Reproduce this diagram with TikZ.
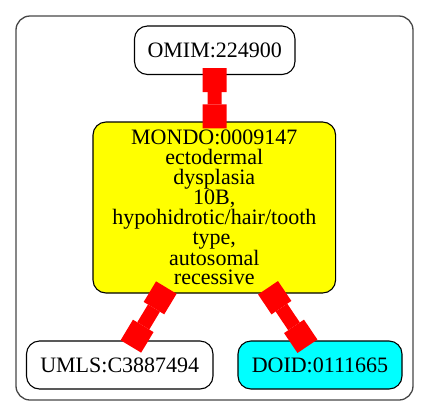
\documentclass[tikz,border=0pt]{standalone}
\usepackage{fontspec}
\setmainfont{Liberation Serif}
\usetikzlibrary{arrows.meta}
\definecolor{edgered}{RGB}{255,0,0}
\definecolor{mondoyellow}{RGB}{255,255,0}
\definecolor{doidcyan}{RGB}{0,255,255}
\definecolor{framegray}{RGB}{70,70,70}
\begin{document}
\begin{tikzpicture}[x=1pt,y=-1pt,
  nd/.style={draw=black, line width=1.1pt, rounded corners=13pt, inner sep=0pt, align=center, font=\fontsize{22}{19.9}\selectfont},
  boxtip/.tip={Square[length=24pt,width=24pt,line width=0pt]},
  edge/.style={draw=edgered, line width=14pt, boxtip-boxtip, shorten <=-7pt, shorten >=-7pt}]
\useasboundingbox (0,0) rectangle (429,416);
\draw[draw=framegray, line width=1.3pt, rounded corners=14pt] (16,16) rectangle (413,400);
\node[nd, minimum width=160.5pt, minimum height=48.5pt] (omim) at (214.75,50.25) {OMIM:224900};
\node[nd, fill=mondoyellow, minimum width=242.6pt, minimum height=171pt] (mondo) at (214.3,207.5) {MONDO:0009147\\ectodermal\\dysplasia\\10B,\\hypohidrotic/hair/tooth\\type,\\autosomal\\recessive};
\node[nd, minimum width=186.5pt, minimum height=48pt] (umls) at (119.75,365) {UMLS:C3887494};
\node[nd, fill=doidcyan, minimum width=164pt, minimum height=48pt] (doid) at (320,365) {DOID:0111665};
\draw[edge] (omim) -- (mondo);
\draw[edge] (mondo) -- (umls);
\draw[edge] (mondo) -- (doid);
\end{tikzpicture}
\end{document}
